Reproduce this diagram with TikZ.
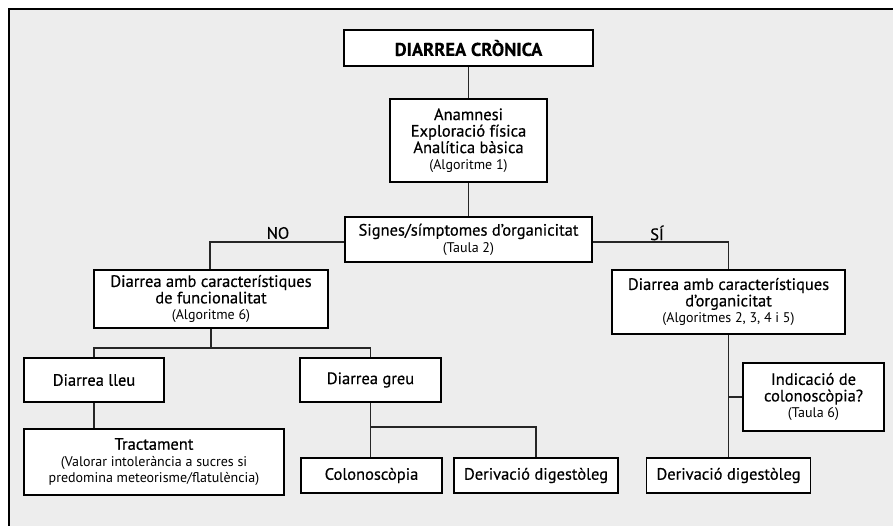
\documentclass[tikz,border=0pt]{standalone}
\usepackage{fontspec}
\setmainfont{PT Sans}
\newfontfamily\medf[FakeBold=0.5]{PT Sans}
\newfontfamily\boldf[FakeBold=0.3]{PT Sans Bold}
\begin{document}
\begin{tikzpicture}[x=1pt,y=1pt,
  box/.style={draw=black, line width=1.7pt, fill=white, align=center, inner sep=0pt,
    font=\medf\fontsize{16.5}{16.5}\selectfont},
  link/.style={draw=black!85, line width=1.1pt},
  lbl/.style={font=\medf\fontsize{16.5}{16.5}\selectfont, inner sep=0pt}]
\newcommand{\refnote}[1]{{\fontsize{14}{16}\selectfont\rmfamily #1}}
% canvas and frame
\useasboundingbox (0,0) rectangle (893,-526);
\fill[white] (0,0) rectangle (893,-526);
\fill[black!7] (9,-9) rectangle (893,-526);
\draw[line width=2.4pt, line cap=rect] (9,-526) -- (9,-9) -- (893,-9);

% boxes
\node[box, minimum width=249pt, minimum height=36pt] (title) at (468.5,-48)
  {\boldf\fontsize{18.5}{20}\selectfont DIARREA CRÒNICA};
\node[box, minimum width=157pt, minimum height=83pt] (anam) at (468.5,-140.5)
  {Anamnesi\\Exploració física\\Analítica bàsica\\\refnote{(Algoritme 1)}};
\node[box, minimum width=247pt, minimum height=45pt] (signes) at (468.5,-239.5)
  {Signes/símptomes d’organicitat\\\refnote{(Taula 2)}};
\node[box, minimum width=234pt, minimum height=58pt] (func) at (211,-299)
  {Diarrea amb característiques\\de funcionalitat\\\refnote{(Algoritme 6)}};
\node[box, minimum width=233pt, minimum height=64pt] (org) at (728.5,-302)
  {Diarrea amb característiques\\d’organicitat\\\refnote{(Algoritmes 2, 3, 4 i 5)}};
\node[box, minimum width=140pt, minimum height=44pt] (lleu) at (94,-380)
  {Diarrea lleu};
\node[box, minimum width=141pt, minimum height=44pt] (greu) at (370.5,-380)
  {Diarrea greu};
\node[box, minimum width=260pt, minimum height=66pt] (tract) at (154,-462)
  {Tractament\\\refnote{(Valorar intolerància a sucres si}\\\refnote{predomina meteorisme/flatulència)}};
\node[box, minimum width=141pt, minimum height=35pt] (colon) at (371.5,-475.5)
  {Colonoscòpia};
\node[box, minimum width=164pt, minimum height=35pt] (deriv1) at (536,-475.5)
  {Derivació digestòleg};
\node[box, minimum width=164pt, minimum height=35pt] (deriv2) at (728.5,-475.5)
  {Derivació digestòleg};
\node[box, minimum width=141pt, minimum height=68pt] (indic) at (813.5,-397)
  {Indicació de\\colonoscòpia?\\\refnote{(Taula 6)}};

% junction points
\coordinate (jf) at (211,-348);
\coordinate (jg) at (370.5,-427);

% connectors
\draw[link] (title) -- (anam);
\draw[link] (anam) -- (signes);
\draw[link] (signes.west |- 0,-242) -| (func.north -| 210,0);
\draw[link] (signes.east |- 0,-242) -| (org.north);
\draw[link] (func) -- (jf);
\draw[link] (lleu.north) |- (jf) -| (greu.north);
\draw[link] (lleu.south) -- (lleu.south |- tract.north);
\draw[link] (greu) -- (colon.north -| greu.south);
\draw[link] (jg) -| (deriv1.north);
\draw[link] (org) -- (deriv2);
\draw[link] (indic.west) -- (indic.west -| org.south);

% branch labels
\node[lbl] (no) at (278,-233) {NO};
\node[lbl] (si) at (657,-233) {SÍ};
\end{tikzpicture}
\end{document}
